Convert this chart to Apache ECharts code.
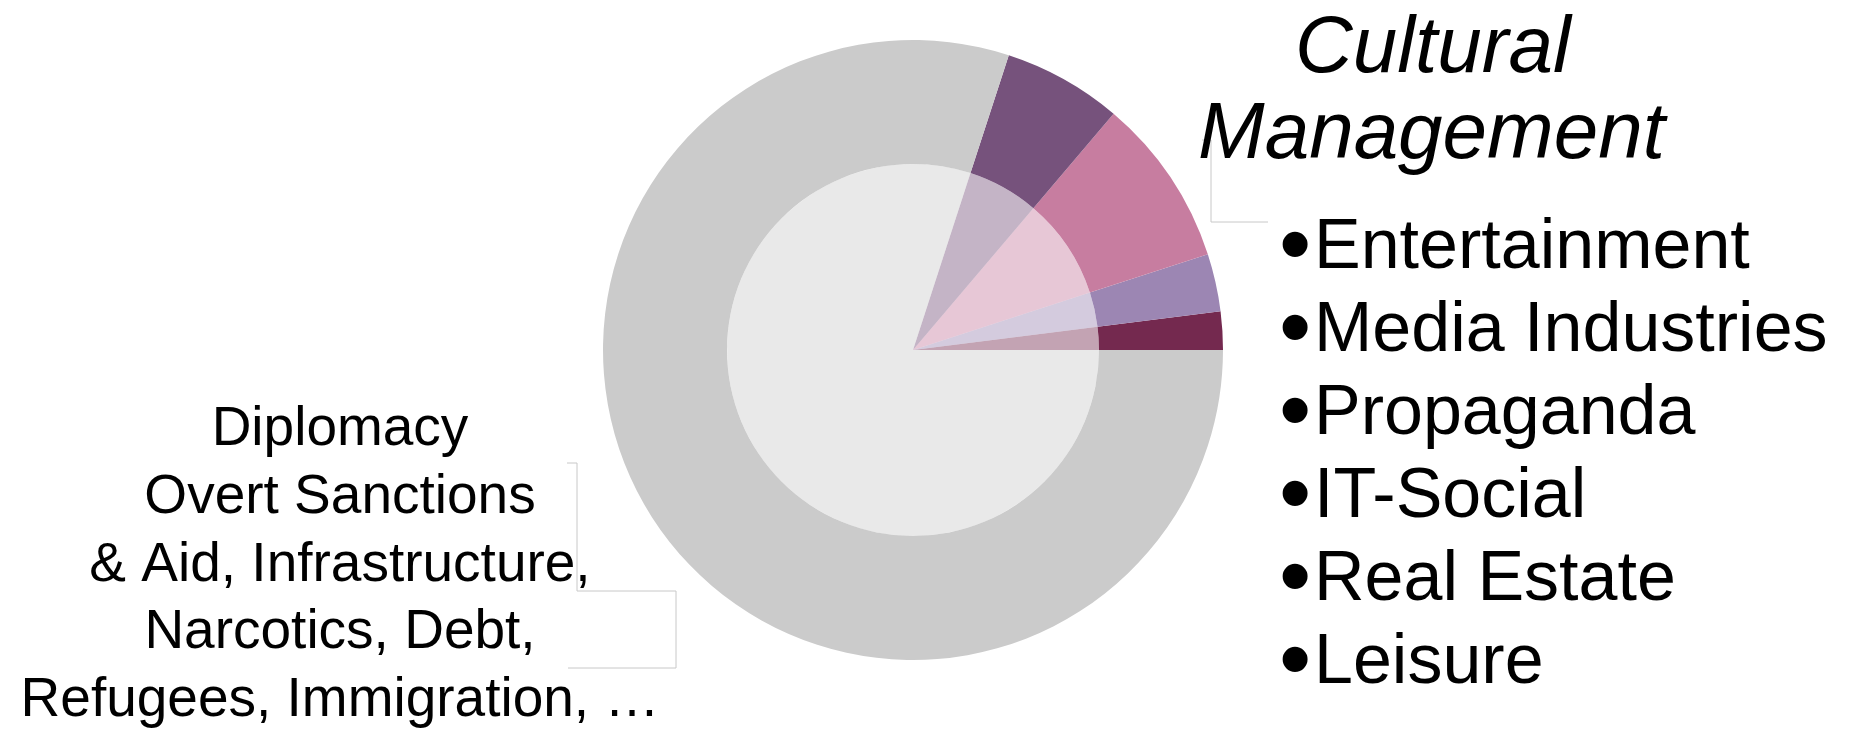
<!DOCTYPE html>
<html>
<head>
<meta charset="utf-8">
<script src="https://cdn.jsdelivr.net/npm/echarts@6/dist/echarts.min.js"></script>
<style>
  html, body { margin: 0; padding: 0; background: #fff; }
  #chart { width: 1854px; height: 731px; }
</style>
</head>
<body>
<div id="chart"></div>
<script>
// Slice shares (% of the circle), counter-clockwise from 3 o'clock.
const sliceNames = ['Cultural A', 'Cultural B', 'Cultural C', 'Cultural D', 'Diplomacy & other statecraft'];
const sliceValues = [2, 3, 8.8, 6.2, 80];
const sliceColors = ['#74294f', '#9c86b3', '#c77da0', '#76527c', '#cbcbcb'];

const headingLines = ['Cultural', 'Management'];
const bulletItems = ['Entertainment', 'Media Industries', 'Propaganda', 'IT-Social', 'Real Estate', 'Leisure'];
const leftLines = [
  'Diplomacy',
  'Overt Sanctions',
  '& Aid, Infrastructure,',
  'Narcotics, Debt,',
  'Refugees, Immigration, …',
];

const FONT = '"Liberation Sans", Arial, Helvetica, sans-serif';
const LEADER = '#c8c8c8';
const CENTER = [913, 350];

const data = sliceNames.map((name, i) => ({
  name, value: sliceValues[i], itemStyle: { color: sliceColors[i] },
}));

const pieBase = {
  type: 'pie',
  center: CENTER,
  startAngle: 0,
  clockwise: false,
  label: { show: false },
  labelLine: { show: false },
  emphasis: { disabled: true },
  silent: true,
  data,
};

// Text blocks are plain annotations around the pie.
const texts = [];
headingLines.forEach((t, i) => texts.push({
  type: 'text', x: i === 0 ? 1295 : 1198, y: i === 0 ? 50 : 136,
  style: { text: t, font: `italic 80px ${FONT}`, fill: '#000', verticalAlign: 'middle' },
}));
bulletItems.forEach((t, i) => {
  const y = 249 + i * 83;
  texts.push({
    type: 'text', x: 1279, y: y + 1,
    style: { text: '•', font: `92px ${FONT}`, fill: '#000', verticalAlign: 'middle' },
  });
  texts.push({
    type: 'text', x: 1314, y,
    style: { text: t, font: `70px ${FONT}`, fill: '#000', verticalAlign: 'middle' },
  });
});
leftLines.forEach((t, i) => texts.push({
  type: 'text', x: 340, y: 430 + i * 67.7,
  style: { text: t, font: `55px ${FONT}`, fill: '#000', align: 'center', verticalAlign: 'middle' },
}));

const leaders = [
  [[567, 463], [577, 463], [577, 591], [676, 591], [676, 668], [568, 668]],
  [[1202, 140], [1211, 140], [1211, 222], [1268, 222]],
].map(points => ({
  type: 'polyline', z: -1,
  shape: { points },
  style: { stroke: LEADER, lineWidth: 1, fill: null },
}));

const chart = echarts.init(document.getElementById('chart'), null, { renderer: 'canvas' });
chart.setOption({
  animation: false,
  series: [
    { ...pieBase, radius: [186, 310] },
    { ...pieBase, radius: [0, 186], itemStyle: { opacity: 0.43 } },
  ],
  graphic: [...leaders, ...texts],
});
</script>
</body>
</html>
